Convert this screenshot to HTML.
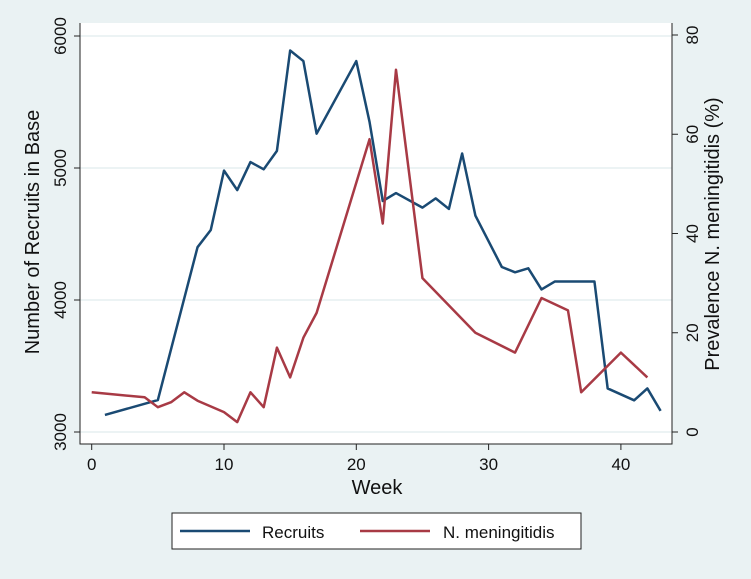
<!DOCTYPE html>
<html><head><meta charset="utf-8"><style>
body{margin:0;background:#eaf2f3;}
svg{display:block;font-family:"Liberation Sans",sans-serif;}
</style></head><body>
<svg width="751" height="579" viewBox="0 0 751 579">
<rect x="0" y="0" width="751" height="579" fill="#eaf2f3"/>
<rect x="80" y="23" width="592" height="421" fill="#fff"/>
<g id="grid"></g>
<g id="axes"></g>
<g id="series"></g>
<text x="377" y="494" font-size="20" text-anchor="middle" fill="#111">Week</text>
<text transform="translate(39,232) rotate(-90)" font-size="20" text-anchor="middle" fill="#111">Number of Recruits in Base</text>
<text transform="translate(719,234) rotate(-90)" font-size="20" text-anchor="middle" fill="#111">Prevalence N. meningitidis (%)</text>
<g>
<rect x="172" y="513" width="409" height="36" fill="#fff" stroke="#222" stroke-width="1"/>
<line x1="180" y1="531" x2="250" y2="531" stroke="#1a4a73" stroke-width="2.5"/>
<text x="262" y="538" font-size="17" fill="#111">Recruits</text>
<line x1="360" y1="531" x2="430" y2="531" stroke="#a83a45" stroke-width="2.5"/>
<text x="443" y="538" font-size="17" fill="#111">N. meningitidis</text>
</g>
</svg>
<script>
const recruitWeeks=[1,5,8,9,10,11,12,13,14,15,16,17,20,21,22,23,25,26,27,28,29,31,32,33,34,35,38,39,41,42,43];
const recruitValues=[3129,3242,4400,4530,4980,4833,5045,4990,5130,5890,5810,5260,5810,5350,4750,4810,4700,4770,4690,5110,4640,4250,4210,4240,4080,4140,4140,3330,3240,3330,3160];
const menWeeks=[0,4,5,6,7,8,10,11,12,13,14,15,16,17,21,22,23,25,29,32,34,36,37,40,42];
const menValues=[8,7,5,6,8,6.3,4,2,8,5,17,11,19,24,59,42,73,31,20,16,27,24.5,8,16,11];
const xTicks=[0,10,20,30,40];
const leftTicks=[3000,4000,5000,6000];
const rightTicks=[0,20,40,60,80];
const NS="http://www.w3.org/2000/svg";
const xS=w=>91.7+w*13.23;
const yL=v=>432-(v-3000)*0.132;
const yR=v=>432-v*4.9625;
function mk(t,a,p){const e=document.createElementNS(NS,t);for(const k in a)e.setAttribute(k,a[k]);p.appendChild(e);return e;}
const grid=document.getElementById('grid'),axes=document.getElementById('axes'),series=document.getElementById('series');
leftTicks.forEach(v=>{
 const g=mk('line',{x1:80,x2:672,y1:yL(v),y2:yL(v),stroke:'#e6eff1','stroke-width':1.5},grid);
 
 
 const t=mk('line',{x1:74,x2:80,y1:yL(v),y2:yL(v),stroke:'#222'},axes);
 
 
 const l=mk('text',{transform:`translate(66,${yL(v)}) rotate(-90)`,'font-size':17,'text-anchor':'middle',fill:'#111'},axes);
 l.textContent=v;
 
 
});
rightTicks.forEach(v=>{
 const t=mk('line',{x1:672,x2:678,y1:yR(v),y2:yR(v),stroke:'#222'},axes);
 
 
 const l=mk('text',{transform:`translate(698,${yR(v)}) rotate(-90)`,'font-size':17,'text-anchor':'middle',fill:'#111'},axes);
 l.textContent=v;
 
 
});
xTicks.forEach(v=>{
 const t=mk('line',{x1:xS(v),x2:xS(v),y1:444,y2:450,stroke:'#222'},axes);
 
 
 const l=mk('text',{x:xS(v),y:470,'font-size':17,'text-anchor':'middle',fill:'#111'},axes);
 l.textContent=v;
 
 
});
const ax=mk('path',{d:'M80,23 V444 H672 V23',fill:'none',stroke:'#222','stroke-width':1},axes);


const p1=mk('polyline',{points:recruitWeeks.map((w,i)=>xS(w)+','+yL(recruitValues[i])).join(' '),fill:'none',stroke:'#1a4a73','stroke-width':2.5,'stroke-linejoin':'round'},series);


const p2=mk('polyline',{points:menWeeks.map((w,i)=>xS(w)+','+yR(menValues[i])).join(' '),fill:'none',stroke:'#a83a45','stroke-width':2.5,'stroke-linejoin':'round'},series);


</script>
</body></html>
